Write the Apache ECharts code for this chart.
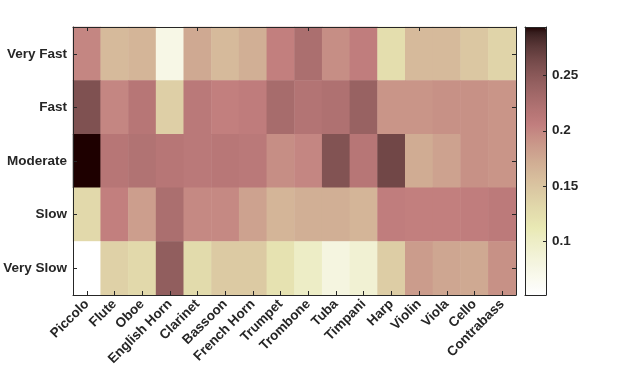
<!DOCTYPE html>
<html>
<head>
<meta charset="utf-8">
<script src="https://cdn.jsdelivr.net/npm/echarts@6/dist/echarts.min.js"></script>
<style>html,body{margin:0;padding:0;background:#fff;}#c{width:620px;height:373px;}</style>
</head>
<body>
<div id="c"></div>
<script>
const instruments = ['Piccolo','Flute','Oboe','English Horn','Clarinet','Bassoon','French Horn','Trumpet','Trombone','Tuba','Timpani','Harp','Violin','Viola','Cello','Contrabass'];
const tempos = ['Very Fast','Fast','Moderate','Slow','Very Slow'];
const veryFast = [0.200,0.160,0.165,0.075,0.175,0.160,0.170,0.205,0.225,0.195,0.207,0.125,0.160,0.160,0.148,0.135];
const fast     = [0.257,0.200,0.215,0.140,0.212,0.205,0.208,0.228,0.218,0.222,0.240,0.190,0.190,0.193,0.193,0.190];
const moderate = [0.2935,0.215,0.220,0.215,0.212,0.214,0.212,0.195,0.200,0.255,0.215,0.265,0.172,0.180,0.193,0.190];
const slow     = [0.130,0.205,0.183,0.225,0.198,0.198,0.180,0.165,0.170,0.170,0.165,0.207,0.205,0.205,0.207,0.210];
const verySlow = [0.052,0.138,0.130,0.245,0.128,0.145,0.145,0.120,0.100,0.080,0.090,0.142,0.185,0.177,0.175,0.193];
const colorbarTicks = [0.1,0.15,0.2,0.25];

const rows = [veryFast, fast, moderate, slow, verySlow];
const data = [];
rows.forEach((row, yi) => row.forEach((v, xi) => data.push([xi, yi, v])));
let vmin = Infinity, vmax = -Infinity;
data.forEach(d => { vmin = Math.min(vmin, d[2]); vmax = Math.max(vmax, d[2]); });

// MATLAB "pink" colormap, flipped (white = low)
function pinkMap(m) {
  const n = Math.floor(3 / 8 * m);
  const cols = [];
  for (let i = 0; i < m; i++) {
    const gray = i / (m - 1);
    const r = i < n ? (i + 1) / n : 1;
    const g = i < n ? 0 : (i < 2 * n ? (i - n + 1) / n : 1);
    const b = i < 2 * n ? 0 : (i - 2 * n + 1) / (m - 2 * n);
    const f = x => Math.round(255 * Math.sqrt((2 * gray + x) / 3));
    cols.push('rgb(' + f(r) + ',' + f(g) + ',' + f(b) + ')');
  }
  return cols.reverse();
}
const cmap = pinkMap(64);

const txt = '#262626';
const font = 'Liberation Sans, Arial, Helvetica, sans-serif';
const G = {left: 73, top: 27, width: 443, height: 268};
const CB = {left: 525, top: 27, width: 21, height: 268};

const chart = echarts.init(document.getElementById('c'), null, {renderer: 'canvas'});
chart.setOption({
  animation: false,
  backgroundColor: '#fff',
  grid: [
    {left: G.left, top: G.top, width: G.width, height: G.height},
    {left: CB.left, top: CB.top, width: CB.width, height: CB.height}
  ],
  xAxis: [
    {type: 'category', gridIndex: 0, data: instruments, position: 'bottom', z: 10,
     axisLine: {show: true, lineStyle: {color: txt, width: 1}},
     axisTick: {show: true, inside: true, alignWithLabel: true, length: 4, lineStyle: {color: txt}},
     axisLabel: {interval: 0, rotate: 45, margin: 7, color: txt, fontWeight: 'bold', fontSize: 13.5, fontFamily: font},
     splitLine: {show: false}},
    {type: 'category', gridIndex: 0, data: instruments, position: 'top', z: 10,
     axisLine: {show: true, onZero: false, lineStyle: {color: txt, width: 1}},
     axisTick: {show: true, inside: true, alignWithLabel: true, length: 4, lineStyle: {color: txt}},
     axisLabel: {show: false}, splitLine: {show: false}},
    {type: 'value', gridIndex: 1, position: 'bottom', z: 10, min: 0, max: 1,
     axisLine: {show: true, onZero: false, lineStyle: {color: txt, width: 1}},
     axisTick: {show: false}, axisLabel: {show: false}, splitLine: {show: false}},
    {type: 'value', gridIndex: 1, position: 'top', z: 10, min: 0, max: 1,
     axisLine: {show: true, onZero: false, lineStyle: {color: txt, width: 1}},
     axisTick: {show: false}, axisLabel: {show: false}, splitLine: {show: false}}
  ],
  yAxis: [
    {type: 'category', gridIndex: 0, data: tempos, inverse: true, position: 'left', z: 10,
     axisLine: {show: true, lineStyle: {color: txt, width: 1}},
     axisTick: {show: true, inside: true, alignWithLabel: true, length: 4, lineStyle: {color: txt}},
     axisLabel: {margin: 6, color: txt, fontWeight: 'bold', fontSize: 13.5, fontFamily: font},
     splitLine: {show: false}},
    {type: 'category', gridIndex: 0, data: tempos, inverse: true, position: 'right', z: 10,
     axisLine: {show: true, onZero: false, lineStyle: {color: txt, width: 1}},
     axisTick: {show: true, inside: true, alignWithLabel: true, length: 4, lineStyle: {color: txt}},
     axisLabel: {show: false}, splitLine: {show: false}},
    {type: 'value', gridIndex: 1, position: 'left', z: 10, min: vmin, max: vmax,
     axisLine: {show: true, onZero: false, lineStyle: {color: txt, width: 1}},
     axisTick: {show: false}, axisLabel: {show: false}, splitLine: {show: false}},
    {type: 'value', gridIndex: 1, position: 'right', z: 10, min: vmin, max: vmax,
     axisLine: {show: true, onZero: false, lineStyle: {color: txt, width: 1}},
     axisTick: {show: true, inside: true, length: 3, customValues: colorbarTicks, lineStyle: {color: txt}},
     axisLabel: {show: true, margin: 6, customValues: colorbarTicks, color: txt, fontWeight: 'bold', fontSize: 13.5, fontFamily: font,
                 formatter: v => String(+v.toFixed(2))},
     splitLine: {show: false}}
  ],
  visualMap: {
    type: 'continuous', min: vmin, max: vmax, seriesIndex: 0, calculable: false, hoverLink: false,
    orient: 'vertical', left: CB.left, top: CB.top, itemWidth: CB.width, itemHeight: CB.height,
    padding: 0, text: null, showLabel: false,
    inRange: {color: cmap}
  },
  series: [{
    type: 'heatmap', xAxisIndex: 0, yAxisIndex: 0, data: data,
    itemStyle: {borderWidth: 0},
    emphasis: {disabled: true}, progressive: 0
  }]
});
</script>
</body>
</html>
